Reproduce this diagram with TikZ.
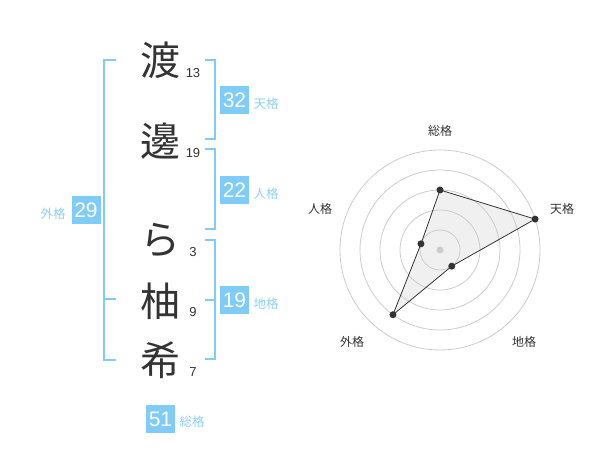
\documentclass[tikz,border=0pt]{standalone}
\usepackage{fontspec}
\setmainfont{Liberation Sans}
\newfontfamily\jp{Noto Sans CJK JP}
\definecolor{bl}{HTML}{80CCF8}
\definecolor{bltxt}{HTML}{8ED0F5}
\definecolor{ink}{HTML}{333333}
\definecolor{ring}{HTML}{CCCCCC}
\definecolor{area}{HTML}{E6E6E6}
\begin{document}
\begin{tikzpicture}[x=1pt,y=-1pt,
  charnode/.style={inner sep=0pt,text=ink,font=\jp\fontsize{40}{40}\selectfont},
  strokenum/.style={inner sep=0pt,text=ink,font=\fontsize{13}{13}\selectfont},
  numbox/.style={fill=bl,text=white,inner sep=0pt,minimum width=29pt,minimum height=28pt,font=\fontsize{21}{21}\selectfont},
  kaku/.style={inner sep=0pt,text=bltxt,font=\jp\fontsize{12.5}{12.5}\selectfont},
  brk/.style={draw=bl,line width=2pt},
  axlabel/.style={inner sep=0pt,text=ink,font=\jp\fontsize{12}{12}\selectfont},
  dotp/.style={circle,fill=ink,inner sep=0pt,minimum size=7pt}]
\useasboundingbox (0,0) rectangle (600,470);
% characters
\node[charnode] (c1) at (160,60) {渡};
\node[charnode] (c2) at (160,141) {邊};
\node[charnode] (c3) at (160,240) {ら};
\node[charnode] (c4) at (160,301) {柚};
\node[charnode] (c5) at (160,360) {希};
\node[strokenum] (n1) at (193,73.5) {13};
\node[strokenum] (n2) at (193,153) {19};
\node[strokenum] (n3) at (193,252) {3};
\node[strokenum] (n4) at (193,312) {9};
\node[strokenum] (n5) at (193,372) {7};
% brackets
\draw[brk] (116,60) -- (104,60) -- (104,360) -- (116,360);
\draw[brk] (104,299.5) -- (116,299.5);
\draw[brk] (205,60) -- (214.5,60) -- (214.5,139) -- (205,139);
\draw[brk] (205,149.5) -- (214.5,149.5) -- (214.5,229.5) -- (205,229.5);
\draw[brk] (205,240) -- (214.5,240) -- (214.5,359.5) -- (205,359.5);
\draw[brk] (205,300) -- (214.5,300);
% boxes
\node[numbox] (b1) at (234.5,100) {32};
\node[kaku] (k1) at (266,104) {天格};
\node[numbox] (b2) at (234.5,190) {22};
\node[kaku] (k2) at (266,194) {人格};
\node[numbox] (b3) at (86,210.5) {29};
\node[kaku] (k3) at (53,214) {外格};
\node[numbox] (b4) at (234.5,300) {19};
\node[kaku] (k4) at (266,304) {地格};
\node[numbox] (b5) at (160.5,419) {51};
\node[kaku] (k5) at (192,422) {総格};
% radar
\begin{scope}[shift={(440,250)}]
  \coordinate (pS) at (90:60pt);
  \coordinate (pT) at (18:100pt);
  \coordinate (pC) at (-54:20pt);
  \coordinate (pG) at (-126:80pt);
  \coordinate (pJ) at (162:20pt);
  \fill[area,fill opacity=0.6] (pS) -- (pT) -- (pC) -- (pG) -- (pJ) -- cycle;
  \foreach \r in {20,40,60,80,100} \draw[ring,line width=0.8pt] (0,0) circle[radius=\r pt];
  \fill[ring] (0,0) circle[radius=3.5pt];
  \draw[ink,line width=0.8pt] (pS) -- (pT) -- (pC) -- (pG) -- (pJ) -- cycle;
  \foreach \p in {pS,pT,pC,pG,pJ} \node[dotp] at (\p) {};
\end{scope}
\node[axlabel] (lS) at (440,131) {総格};
\node[axlabel] (lT) at (562,209) {天格};
\node[axlabel] (lJ) at (320,209) {人格};
\node[axlabel] (lG) at (352,342) {外格};
\node[axlabel] (lC) at (524,342) {地格};
\end{tikzpicture}
\end{document}
